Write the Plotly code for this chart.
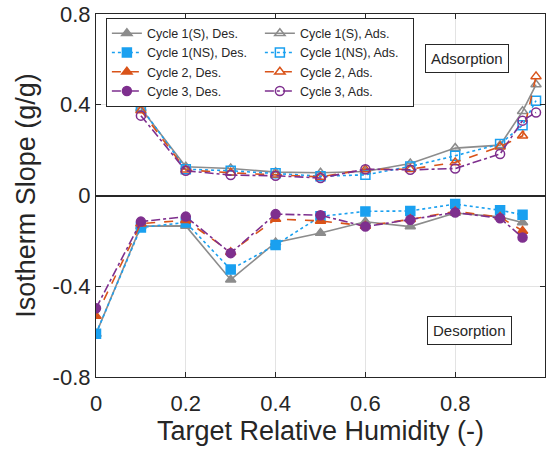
import plotly.graph_objects as go

# Target relative humidity steps
rh_des = [0.0, 0.1, 0.2, 0.3, 0.4, 0.5, 0.6, 0.7, 0.8, 0.9, 0.95]
rh_ads = [0.1, 0.2, 0.3, 0.4, 0.5, 0.6, 0.7, 0.8, 0.9, 0.95, 0.98]

# Isotherm slopes (g/g) – desorption branch
c1s_des = [-0.61, -0.135, -0.134, -0.371, -0.207, -0.165, -0.116, -0.137, -0.077, -0.094, -0.119]
c1ns_des = [-0.609, -0.141, -0.119, -0.326, -0.218, -0.092, -0.070, -0.068, -0.038, -0.065, -0.085]
c2_des = [-0.531, -0.124, -0.109, -0.250, -0.104, -0.112, -0.134, -0.105, -0.070, -0.095, -0.156]
c3_des = [-0.497, -0.115, -0.093, -0.254, -0.082, -0.087, -0.137, -0.107, -0.075, -0.100, -0.185]

# Isotherm slopes (g/g) – adsorption branch
c1s_ads = [0.385, 0.127, 0.119, 0.103, 0.100, 0.106, 0.141, 0.209, 0.222, 0.371, 0.489]
c1ns_ads = [0.390, 0.116, 0.109, 0.098, 0.085, 0.091, 0.128, 0.175, 0.227, 0.310, 0.418]
c2_ads = [0.375, 0.113, 0.100, 0.092, 0.082, 0.115, 0.116, 0.146, 0.215, 0.263, 0.525]
c3_ads = [0.352, 0.109, 0.090, 0.087, 0.077, 0.116, 0.113, 0.119, 0.183, 0.330, 0.366]

GRAY = "#8c8c8c"
BLUE = "#1aa0f0"
ORANGE = "#d95319"
PURPLE = "#7e2f8e"
FONT = "Liberation Sans, Arial, sans-serif"
INK = "#262626"

series = [
    ("Cycle 1(S), Des.", rh_des, c1s_des, GRAY, "solid", "triangle-up"),
    ("Cycle 1(S), Ads.", rh_ads, c1s_ads, GRAY, "solid", "triangle-up-open"),
    ("Cycle 1(NS), Des.", rh_des, c1ns_des, BLUE, "dot", "square"),
    ("Cycle 1(NS), Ads.", rh_ads, c1ns_ads, BLUE, "dot", "square-open"),
    ("Cycle 2, Des.", rh_des, c2_des, ORANGE, "dash", "triangle-up"),
    ("Cycle 2, Ads.", rh_ads, c2_ads, ORANGE, "dash", "triangle-up-open"),
    ("Cycle 3, Des.", rh_des, c3_des, PURPLE, "dashdot", "circle"),
    ("Cycle 3, Ads.", rh_ads, c3_ads, PURPLE, "dashdot", "circle-open"),
]

fig = go.Figure()
for name, x, y, color, dash, symbol in series:
    fig.add_trace(go.Scatter(
        x=x, y=y, name=name, mode="lines+markers",
        line=dict(color=color, width=1.6, dash=dash),
        marker=dict(symbol=symbol, size=9, color=color,
                    line=dict(color=color, width=1.5)),
    ))

axis_common = dict(
    showline=True, linecolor=INK, linewidth=1.2, mirror="ticks",
    ticks="inside", ticklen=5, tickcolor=INK,
    showgrid=True, gridcolor="#e3e3e3", gridwidth=1,
    tickfont=dict(family=FONT, size=22, color=INK),
)

fig.update_xaxes(
    range=[0, 1], tickvals=[0, 0.2, 0.4, 0.6, 0.8, 1],
    ticktext=["0", "0.2", "0.4", "0.6", "0.8", "1"],
    ticklabelstandoff=6,
    title=dict(text="Target Relative Humidity (-)", standoff=6,
               font=dict(family=FONT, size=27, color=INK)),
    zeroline=False, **axis_common,
)
fig.update_yaxes(
    range=[-0.8, 0.8], tickvals=[-0.8, -0.4, 0, 0.4, 0.8],
    ticktext=["-0.8", "-0.4", "0", "0.4", "0.8"],
    title=dict(text="Isotherm Slope (g/g)", standoff=9,
               font=dict(family=FONT, size=27, color=INK)),
    zeroline=True, zerolinecolor=INK, zerolinewidth=2,
    **axis_common,
)

box = dict(showarrow=False, xref="x", yref="y", bordercolor=INK,
           borderwidth=1, borderpad=5, bgcolor="white",
           font=dict(family=FONT, size=15, color=INK))
fig.add_annotation(x=0.826, y=0.603, text="Adsorption", **box)
fig.add_annotation(x=0.831, y=-0.597, text="Desorption", **box)

fig.update_layout(
    width=547, height=454,
    margin=dict(l=96, r=2, t=14, b=77),
    plot_bgcolor="white", paper_bgcolor="white",
    font=dict(family=FONT, color=INK),
    legend=dict(
        orientation="h", x=0.022, y=0.99, xanchor="left", yanchor="top",
        entrywidth=108, entrywidthmode="pixels",
        bgcolor="white", bordercolor=INK, borderwidth=1,
        font=dict(family=FONT, size=12.5, color=INK),
        itemwidth=30, tracegroupgap=0,
    ),
)

fig.write_html("out.html")
